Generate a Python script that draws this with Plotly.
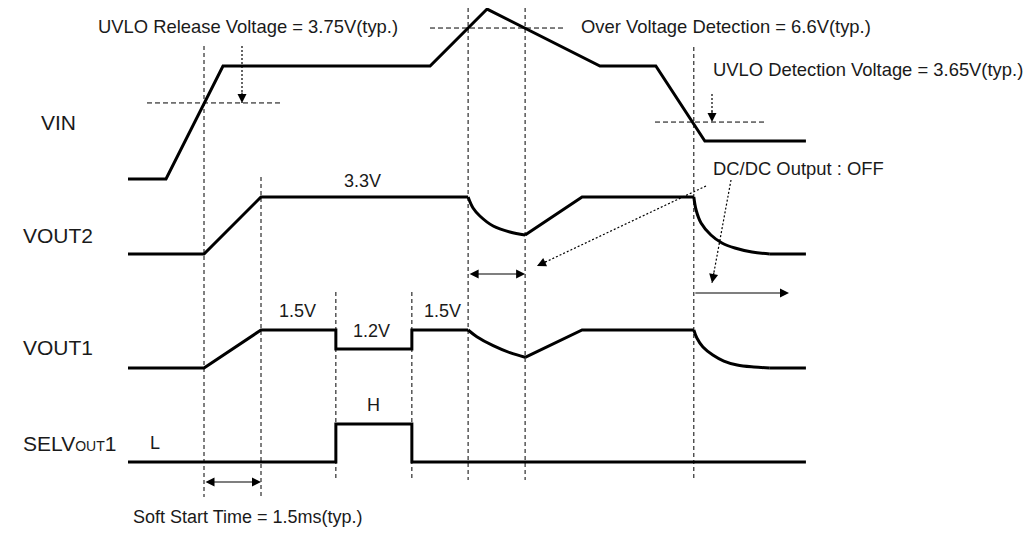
import plotly.graph_objects as go

# ---------------- data (time in ms, levels normalised per row) ----------------
vin_t = [-2.0, -1.0, 0.5, 5.95, 7.45, 10.42, 11.89, 13.18, 15.84]
vin_lv = [0, 0, 1, 1, 1.504, 1, 1, 0.336, 0.336]

vout2_t = [-2.0, 0.0, 1.5, 6.95, None, 8.45, 9.95, 12.89, None, 14.89, 15.84]
vout2_lv = [0, 0, 1, 1, None, 0.333, 1, 1, None, 0, 0]
vout2_dip_t = [6.95, 7.08, 7.26, 7.61, 8.05, 8.45]
vout2_dip_lv = [1, 0.807, 0.667, 0.491, 0.386, 0.333]
vout2_off_t = [12.89, 12.95, 13.08, 13.34, 13.63, 13.97, 14.42, 14.89]
vout2_off_lv = [1, 0.772, 0.544, 0.333, 0.193, 0.105, 0.035, 0]

vout1_t = [-2.0, 0.0, 1.5, 3.47, 3.47, 5.47, 5.47, 6.95, None, 8.45, 9.95, 12.89, None, 14.89, 15.84]
vout1_lv = [0, 0, 1, 1, 0.5, 0.5, 1, 1, None, 0.282, 1, 1, None, 0, 0]
vout1_dip_t = [6.95, 7.18, 7.61, 8.05, 8.45]
vout1_dip_lv = [1, 0.824, 0.587, 0.403, 0.282]
vout1_off_t = [12.89, 12.97, 13.13, 13.39, 13.68, 14.03, 14.47, 14.89]
vout1_off_lv = [1, 0.789, 0.553, 0.342, 0.184, 0.079, 0.026, 0]

sel_t = [-2.0, 3.47, 3.47, 5.47, 5.47, 15.84]
sel_lv = [0, 0, 1, 1, 0, 0]

uvlo_release_lv = 0.673
ovp_lv = 1.336
uvlo_detect_lv = 0.504

event_t = [0.0, 1.5, 3.47, 5.47, 6.95, 8.45, 12.89]

row_labels = ["VIN", "VOUT2", "VOUT1", 'SELV<span style="font-size:14px">OUT</span>1']

# ---------------- layout constants ----------------
W, H = 1034, 533
PAGE_OFFSET = 8          # browser body margin
PX_PER_MS = 38.0
X0_PX = 204.0
row_base = {"VIN": 179, "VOUT2": 254, "VOUT1": 368, "SEL": 462}
row_unit = {"VIN": 113, "VOUT2": 57, "VOUT1": 38, "SEL": 38}
event_span = [(46, 497), (177, 497), (292, 480), (292, 480), (8, 480), (8, 480), (47, 480)]
FONT = "Liberation Sans, Arial, Helvetica, sans-serif"
INK = "#000000"
TXT = "#1a1a1a"


def Y(row, lvs):
    return [None if v is None else row_base[row] - v * row_unit[row] for v in lvs]


def T(px):
    return (px - X0_PX) / PX_PER_MS


fig = go.Figure()


def wave(t, y, shape="linear"):
    fig.add_trace(go.Scatter(x=t, y=y, mode="lines", connectgaps=False,
                             line=dict(color=INK, width=3, shape=shape),
                             hoverinfo="skip", showlegend=False))


wave(vin_t, Y("VIN", vin_lv))
wave(vout2_t, Y("VOUT2", vout2_lv))
wave(vout2_dip_t, Y("VOUT2", vout2_dip_lv), "spline")
wave(vout2_off_t, Y("VOUT2", vout2_off_lv), "spline")
wave(vout1_t, Y("VOUT1", vout1_lv))
wave(vout1_dip_t, Y("VOUT1", vout1_dip_lv), "spline")
wave(vout1_off_t, Y("VOUT1", vout1_off_lv), "spline")
wave(sel_t, Y("SEL", sel_lv))

shapes = []
for t, (y0, y1) in zip(event_t, event_span):
    shapes.append(dict(type="line", xref="x", yref="y", x0=t, x1=t, y0=y0, y1=y1,
                       line=dict(color=INK, width=1, dash="4px,3px"), layer="below"))
thr = [(T(147), T(280), uvlo_release_lv), (T(430), T(563), ovp_lv), (T(655), T(767), uvlo_detect_lv)]
for x0, x1, lv in thr:
    yv = Y("VIN", [lv])[0]
    shapes.append(dict(type="line", xref="x", yref="y", x0=x0, x1=x1, y0=yv, y1=yv,
                       line=dict(color=INK, width=1, dash="5px,3px"), layer="below"))

annotations = []


def dotted_arrow(x0, y0, x1, y1):
    fig.add_trace(go.Scatter(x=[x0, x1], y=[y0, y1], mode="lines",
                             line=dict(color=INK, width=1.2, dash="2px,2px"),
                             hoverinfo="skip", showlegend=False))
    dxp = (x1 - x0) * PX_PER_MS
    dyp = (y1 - y0)
    L = (dxp ** 2 + dyp ** 2) ** 0.5
    annotations.append(dict(x=x1, y=y1, xref="x", yref="y", text="", showarrow=True,
                            ax=-dxp / L * 12, ay=-dyp / L * 12,
                            arrowhead=2, arrowsize=1.5, arrowwidth=1.2, arrowcolor=INK,
                            standoff=0))


y_rel = Y("VIN", [uvlo_release_lv])[0]
y_det = Y("VIN", [uvlo_detect_lv])[0]
dotted_arrow(T(242), 46, T(242), y_rel)
dotted_arrow(T(712), 94, T(712), y_det)
dotted_arrow(T(706), 186, T(537), 266)
dotted_arrow(T(731), 180, T(712), 283)


def solid_arrow(xa, xb, y, both=True):
    annotations.append(dict(x=xb, y=y, ax=xa, ay=y, xref="x", yref="y", axref="x", ayref="y",
                            text="", showarrow=True, arrowhead=2, startarrowhead=2,
                            arrowside="end+start" if both else "end",
                            arrowsize=1.5, startarrowsize=1.5, arrowwidth=1.2,
                            arrowcolor=INK, standoff=0, startstandoff=0))


solid_arrow(6.95, 8.45, 274)
solid_arrow(0.0, 1.5, 482)
solid_arrow(12.89, T(789), 293, both=False)


def label(x, y, s, size=18, anchor="left"):
    annotations.append(dict(x=x, y=y, xref="x", yref="y", text=s, showarrow=False,
                            xanchor=anchor, yanchor="middle",
                            font=dict(family=FONT, size=size, color=TXT)))


label(T(96), 26, "UVLO Release Voltage = 3.75V(typ.)", 18.4)
label(T(579), 26, "Over Voltage Detection = 6.6V(typ.)", 18.4)
label(T(711), 69, "UVLO Detection Voltage = 3.65V(typ.)", 18.4)
label(T(711), 168, "DC/DC Output : OFF", 18.4)
label(T(131), 517, "Soft Start Time = 1.5ms(typ.)")

for lab, px, py in zip(row_labels, [39, 21, 21, 21], [122, 235, 347, 443]):
    label(T(px), py, lab, size=21)

label(T(362), 181, "3.3V", anchor="center")
label(T(297), 311, "1.5V", anchor="center")
label(T(442), 311, "1.5V", anchor="center")
label(T(371), 331, "1.2V", anchor="center")
label(T(373), 405, "H", anchor="center")
label(T(155), 443, "L", anchor="center")

fig.update_layout(
    width=W, height=H,
    margin=dict(l=0, r=0, t=0, b=0),
    paper_bgcolor="white", plot_bgcolor="white",
    xaxis=dict(range=[T(PAGE_OFFSET), T(W + PAGE_OFFSET)], visible=False, fixedrange=True),
    yaxis=dict(range=[H + PAGE_OFFSET, PAGE_OFFSET], visible=False, fixedrange=True),
    shapes=shapes, annotations=annotations, showlegend=False,
)

fig.write_html("out.html", config={"displayModeBar": False})
